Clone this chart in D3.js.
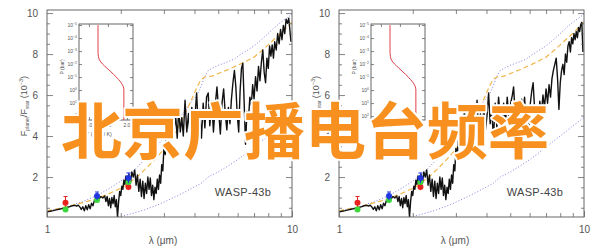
<!DOCTYPE html>
<html>
<head>
<meta charset="utf-8">
<script src="https://cdn.jsdelivr.net/npm/d3@7"></script>
<style>
  body { margin: 0; background: #fff; }
  svg { display: block; }
</style>
</head>
<body>
<div id="svg"></div>
<script>
// ---- data ----
const wavelengthTicks = [1, 10];
const wavelengthMinor = [2, 3, 4, 5, 6, 7, 8, 9];
const fluxTicks = [2, 4, 6, 8, 10];
const fluxMinor = [0.5, 1, 1.5, 2.5, 3, 3.5, 4.5, 5, 5.5, 6.5, 7, 7.5, 8.5, 9, 9.5];

// shared short-wavelength part of the spectrum [lambda (um), Fp/Fs (1e-3)]
const spectrumBase = [
  [1.00,0.30],[1.03,0.33],[1.06,0.36],[1.09,0.40],[1.12,0.43],[1.15,0.46],[1.18,0.48],[1.21,0.52],
  [1.24,0.56],[1.27,0.60],[1.30,0.62],[1.32,0.58],[1.34,0.63],[1.36,0.55],[1.38,0.42],[1.40,0.55],
  [1.42,0.35],[1.44,0.60],[1.46,0.40],[1.48,0.65],[1.50,0.45],[1.52,0.72],[1.54,0.60],[1.56,0.85],
  [1.58,0.80],[1.60,0.95],[1.63,0.92],[1.66,1.05],[1.69,0.98],[1.72,1.08],[1.74,0.80],[1.76,1.05],
  [1.78,0.60],[1.80,0.95],[1.82,0.50],[1.84,1.00],[1.86,0.70],[1.88,1.10],[1.90,0.55],[1.92,0.90],
  [1.94,0.05],[1.96,0.80],[1.98,1.30],[2.00,1.10],[2.02,1.55],[2.04,1.40],[2.06,1.85],[2.08,1.65],
  [2.10,2.05],[2.13,1.80],[2.16,2.15],[2.19,1.70],[2.22,2.25],[2.25,2.00],[2.28,2.35],[2.31,1.60],
  [2.34,2.10],[2.37,1.30],[2.40,1.90],[2.43,1.05],[2.46,1.80],[2.49,0.95],[2.52,1.70],[2.55,1.20],
  [2.58,2.00],[2.61,1.40],[2.64,1.95],[2.67,1.10],[2.70,1.60],[2.73,0.90],[2.76,1.50],[2.79,1.20],
  [2.82,1.90],[2.85,1.40],[2.88,2.10],[2.91,1.70],[2.94,2.60],[2.97,2.30],[3.00,3.40],[3.04,3.10],
  [3.08,4.20],[3.12,3.90],[3.16,4.90],[3.20,4.40],[3.25,5.20],[3.30,4.30],[3.35,5.00],[3.40,3.90],
  [3.45,5.30],[3.50,4.20],[3.55,4.90],[3.60,4.00],[3.66,5.75],[3.72,4.20],[3.78,5.10],[3.84,4.00],
  [3.90,5.40],[3.96,4.30],[4.02,5.00],[4.08,6.10],[4.14,4.60],[4.20,5.30],[4.27,3.90],[4.34,5.60],
  [4.41,4.40],[4.48,5.90]
];
// long-wavelength part, left panel
const spectrumTailLeft = [
  [4.55,6.10],[4.62,4.50],[4.70,5.70],[4.78,4.20],[4.86,5.50],[4.94,6.40],[5.02,5.20],[5.10,4.10],
  [5.18,5.60],[5.26,6.30],[5.34,5.10],[5.42,4.30],[5.50,5.40],[5.58,4.60],[5.66,5.80],[5.74,6.60],
  [5.82,7.20],[5.90,6.40],[5.98,5.00],[6.06,4.20],[6.14,6.20],[6.22,7.30],[6.30,7.55],[6.38,5.60],
  [6.46,3.60],[6.55,5.20],[6.64,4.80],[6.73,5.90],[6.82,5.50],[6.91,6.50],[7.00,5.80],[7.10,6.90],
  [7.20,6.20],[7.30,7.40],[7.40,6.70],[7.50,7.60],[7.60,8.20],[7.70,7.10],[7.80,6.60],[7.90,7.80],
  [8.00,7.30],[8.10,8.40],[8.20,7.90],[8.30,8.45],[8.40,7.80],[8.50,8.60],[8.62,8.20],[8.74,9.00],
  [8.86,8.50],[8.98,9.20],[9.10,8.70],[9.22,9.40],[9.34,9.00],[9.46,9.70],[9.58,9.50],[9.70,9.75],
  [9.80,9.20],[9.90,8.60]
];
// long-wavelength part, right panel
const spectrumTailRight = [
  [4.55,5.00],[4.62,4.30],[4.70,5.60],[4.78,4.60],[4.86,5.90],[4.94,4.80],[5.02,5.60],[5.10,6.00],
  [5.16,6.40],[5.24,5.00],[5.32,4.20],[5.40,5.50],[5.48,4.70],[5.56,5.80],[5.64,5.10],[5.72,5.90],
  [5.80,4.60],[5.88,5.30],[5.96,4.40],[6.04,5.60],[6.12,6.20],[6.20,6.60],[6.28,5.40],[6.36,4.30],
  [6.44,5.20],[6.52,4.60],[6.60,5.70],[6.70,5.10],[6.80,6.00],[6.90,5.40],[7.00,6.30],[7.10,5.60],
  [7.20,6.50],[7.30,5.90],[7.40,6.80],[7.50,7.20],[7.60,7.50],[7.70,7.80],[7.80,6.80],[7.90,5.30],
  [8.00,6.60],[8.10,7.20],[8.20,7.50],[8.30,7.00],[8.40,8.00],[8.50,7.60],[8.60,8.40],[8.70,8.60],
  [8.80,8.10],[8.90,8.80],[9.00,8.50],[9.10,9.00],[9.20,8.70],[9.30,9.10],[9.40,8.80],[9.50,9.30],
  [9.60,9.10],[9.70,9.45],[9.80,9.55],[9.90,8.10]
];

const modelDashed = [
  [1.0,0.35],[1.1,0.45],[1.2,0.55],[1.3,0.65],[1.4,0.75],[1.5,0.85],[1.6,0.95],[1.7,1.08],[1.8,1.2],
  [1.9,1.33],[2.0,1.45],[2.1,1.6],[2.2,1.78],[2.35,2.05],[2.5,2.35],[2.7,2.75],[2.9,3.15],[3.1,3.6],
  [3.3,4.1],[3.5,4.6],[3.7,5.2],[3.9,5.8],[4.1,6.4],[4.25,6.75],[4.4,6.88],[4.6,6.9],[4.8,6.95],
  [5.0,7.05],[5.5,7.25],[6.0,7.45],[6.5,7.65],[7.0,7.85],[7.5,8.15],[8.0,8.45],[8.5,8.75],[9.0,9.0],
  [9.5,9.3],[10.0,9.55]
];
const modelDottedUpper = [
  [1.0,0.33],[1.2,0.55],[1.4,0.8],[1.6,1.1],[1.8,1.45],[2.0,1.8],[2.15,2.1],[2.3,2.4],[2.5,2.85],
  [2.7,3.3],[2.9,3.7],[3.1,4.15],[3.3,4.6],[3.5,4.95],[3.7,5.3],[3.9,5.7],[4.1,6.0],[4.25,6.4],
  [4.4,6.9],[4.55,7.2],[4.8,7.35],[5.0,7.45],[5.4,7.6],[5.8,7.75],[6.2,8.0],[6.6,8.2],[7.0,8.4],
  [7.5,8.7],[8.0,9.0],[8.5,9.3],[9.0,9.55],[9.5,9.75],[10.0,9.95]
];
const modelDottedLower = [
  [1.95,0.05],[2.2,0.2],[2.5,0.4],[2.8,0.62],[3.1,0.85],[3.4,1.08],[3.7,1.3],[4.0,1.52],[4.25,1.68],
  [4.4,1.85],[4.55,2.0],[5.0,2.25],[5.5,2.55],[6.0,2.85],[6.5,3.15],[7.0,3.45],[7.5,3.75],[8.0,4.0],
  [8.5,4.25],[9.0,4.5],[9.5,4.7],[10.0,4.9]
];

// photometry [lambda, value, error]
const redPoints = [[1.19,0.75,0.3],[2.15,1.51,0.15]];
const greenPoints = [[1.19,0.42,0.08],[1.6,0.88,0.08],[2.15,1.76,0.08]];
const bluePoints = [[1.6,1.07,0.2],[2.15,1.95,0.25]];

// inset T-P profile
const profilePressure = [1e-5, 1e-3, 2.5e-3, 5e-3, 1e-2, 2e-2, 4e-2, 0.1, 0.25, 0.5, 1, 200];
const profileTemp = [1.24, 1.24, 1.25, 1.28, 1.36, 1.47, 1.58, 1.72, 1.84, 1.9, 1.92, 1.92];
const pressureTicks = [-5, -4, -3, -2, -1, 0, 1, 2];
const tempTicks = [1.0, 1.5, 2.0];

const titleText = "北京广播电台频率";
const planetName = "WASP-43b";

// ---- drawing ----
const width = 610, height = 249;
const plotW = 245, plotTop = 10, plotBottom = 217;
const font = "'Liberation Sans', Arial, sans-serif";
const axisColor = "#666", textColor = "#555";

const svg = d3.select("#svg").append("svg")
  .attr("width", width).attr("height", height)
  .style("font-family", font);

function styleAxis(g) {
  g.select(".domain").remove();
  g.selectAll("line").attr("stroke", axisColor).attr("stroke-width", 0.8);
  g.selectAll("text").attr("fill", textColor).attr("font-size", 10);
}

function drawPanel(x0, spectrum, id) {
  const x1 = x0 + plotW;
  const x = d3.scaleLog().domain([1, 10]).range([x0, x1]);
  const y = d3.scaleLinear().domain([0.05, 10.15]).range([plotBottom, plotTop]);
  const g = svg.append("g");

  g.append("clipPath").attr("id", "clip" + id)
    .append("rect").attr("x", x0).attr("y", plotTop)
    .attr("width", plotW).attr("height", plotBottom - plotTop);

  const line = d3.line().x(d => x(d[0])).y(d => y(d[1]));
  const data = g.append("g").attr("clip-path", `url(#clip${id})`);

  data.append("path").datum(modelDottedLower).attr("d", line)
    .attr("fill", "none").attr("stroke", "#7f7fe6").attr("stroke-width", 1)
    .attr("stroke-dasharray", "1,2");
  data.append("path").datum(modelDottedUpper).attr("d", line)
    .attr("fill", "none").attr("stroke", "#7f7fe6").attr("stroke-width", 1)
    .attr("stroke-dasharray", "1,2");
  data.append("path").datum(modelDashed).attr("d", line)
    .attr("fill", "none").attr("stroke", "#f2b54a").attr("stroke-width", 1.2)
    .attr("stroke-dasharray", "5,3");
  data.append("path").datum(spectrum).attr("d", line)
    .attr("fill", "none").attr("stroke", "#111").attr("stroke-width", 1.4)
    .attr("stroke-linejoin", "round");

  [[redPoints, "#e8231f"], [greenPoints, "#3bd83b"], [bluePoints, "#2236e0"]].forEach(([pts, c]) => {
    const pg = data.append("g");
    pg.selectAll("line").data(pts).join("line")
      .attr("x1", d => x(d[0])).attr("x2", d => x(d[0]))
      .attr("y1", d => y(d[1] - d[2])).attr("y2", d => y(d[1] + d[2]))
      .attr("stroke", c).attr("stroke-width", 1);
    pg.selectAll(".cap").data(pts).join("line").attr("class", "cap")
      .attr("x1", d => x(d[0]) - 2).attr("x2", d => x(d[0]) + 2)
      .attr("y1", d => y(d[1] + d[2])).attr("y2", d => y(d[1] + d[2]))
      .attr("stroke", c).attr("stroke-width", 1);
    pg.selectAll("circle").data(pts).join("circle")
      .attr("cx", d => x(d[0])).attr("cy", d => y(d[1])).attr("r", 3)
      .attr("fill", c);
  });

  // frame
  g.append("rect").attr("x", x0).attr("y", plotTop)
    .attr("width", plotW).attr("height", plotBottom - plotTop)
    .attr("fill", "none").attr("stroke", axisColor).attr("stroke-width", 1);

  // axes, ticks pointing inward
  g.append("g").attr("transform", `translate(${x0},0)`)
    .call(d3.axisLeft(y).tickValues(fluxTicks).tickSize(-6).tickPadding(9).tickFormat(d3.format("d")))
    .call(styleAxis);
  g.append("g").attr("transform", `translate(${x0},0)`)
    .call(d3.axisLeft(y).tickValues(fluxMinor).tickSize(-3).tickFormat(""))
    .call(styleAxis);
  g.append("g").attr("transform", `translate(${x1},0)`)
    .call(d3.axisRight(y).tickValues(fluxTicks).tickSize(-6).tickFormat(""))
    .call(styleAxis);
  g.append("g").attr("transform", `translate(${x1},0)`)
    .call(d3.axisRight(y).tickValues(fluxMinor).tickSize(-3).tickFormat(""))
    .call(styleAxis);
  g.append("g").attr("transform", `translate(0,${plotBottom})`)
    .call(d3.axisBottom(x).tickValues(wavelengthTicks).tickSize(-6).tickPadding(9).tickFormat(d3.format("d")))
    .call(styleAxis);
  g.append("g").attr("transform", `translate(0,${plotBottom})`)
    .call(d3.axisBottom(x).tickValues(wavelengthMinor).tickSize(-4).tickFormat(""))
    .call(styleAxis);
  g.append("g").attr("transform", `translate(0,${plotTop})`)
    .call(d3.axisTop(x).tickValues(wavelengthMinor).tickSize(-4).tickFormat(""))
    .call(styleAxis);

  // axis titles
  g.append("text").attr("x", x0 + 116).attr("y", 244)
    .attr("text-anchor", "middle").attr("font-size", 10).attr("fill", textColor)
    .text("λ (μm)");
  const yt = g.append("text")
    .attr("transform", `translate(${x0 - 20},106) rotate(-90)`)
    .attr("text-anchor", "middle").attr("font-size", 9).attr("fill", textColor);
  yt.append("tspan").text("F");
  yt.append("tspan").attr("font-size", 5).attr("dy", 2).text("planet");
  yt.append("tspan").attr("dy", -2).text("/F");
  yt.append("tspan").attr("font-size", 5).attr("dy", 2).text("star");
  yt.append("tspan").attr("dy", -2).text(" (10");
  yt.append("tspan").attr("font-size", 5.5).attr("dy", -4).text("−3");
  yt.append("tspan").attr("dy", 4).text(")");

  g.append("text").attr("x", x0 + 196).attr("y", 196)
    .attr("text-anchor", "middle").attr("font-size", 11).attr("fill", "#444")
    .attr("letter-spacing", 0.3)
    .text(planetName);

  drawInset(g, x0);
}

function drawInset(g, x0) {
  const ix0 = x0 + 32, ix1 = x0 + 86, iy0 = 24, iy1 = 120;
  const ix = d3.scaleLinear().domain([0.74, 2.16]).range([ix0, ix1]);
  const iy = d3.scaleLog().domain([Math.pow(10, -5.08), Math.pow(10, 2.3)]).range([iy0, iy1]);
  const ig = g.append("g");

  ig.append("rect").attr("x", ix0).attr("y", iy0)
    .attr("width", ix1 - ix0).attr("height", iy1 - iy0)
    .attr("fill", "#fff").attr("stroke", axisColor).attr("stroke-width", 1);

  const decades = pressureTicks.map(p => Math.pow(10, p));
  ig.append("g").attr("transform", `translate(${ix0},0)`)
    .call(d3.axisLeft(iy).tickValues(decades).tickSize(-3).tickFormat(""))
    .call(styleAxis);
  ig.append("g").attr("transform", `translate(${ix1},0)`)
    .call(d3.axisRight(iy).tickValues(decades).tickSize(-3).tickFormat(""))
    .call(styleAxis);
  ig.append("g").attr("transform", `translate(0,${iy1})`)
    .call(d3.axisBottom(ix).tickValues(tempTicks).tickSize(-3).tickFormat(""))
    .call(styleAxis);
  ig.append("g").attr("transform", `translate(0,${iy0})`)
    .call(d3.axisTop(ix).tickValues(tempTicks).tickSize(-3).tickFormat(""))
    .call(styleAxis);

  const labels = ig.append("g").attr("font-size", 5).attr("fill", textColor);
  pressureTicks.forEach(p => {
    const t = labels.append("text").attr("x", ix0 - 2).attr("y", iy(Math.pow(10, p)) + 2)
      .attr("text-anchor", "end");
    t.append("tspan").text("10");
    t.append("tspan").attr("font-size", 3.5).attr("dy", -2).text(p < 0 ? "−" + (-p) : p);
  });
  tempTicks.forEach(t => {
    labels.append("text").attr("x", ix(t)).attr("y", iy1 + 7)
      .attr("text-anchor", "middle").text(d3.format(".1f")(t));
  });
  labels.append("text").attr("transform", `translate(${x0 + 17},67) rotate(-90)`)
    .attr("text-anchor", "middle").text("P (bar)");
  labels.append("text").attr("x", x0 + 52).attr("y", 136)
    .attr("text-anchor", "middle").attr("font-size", 5.5).text("T (1000 K)");

  const profile = d3.zip(profileTemp, profilePressure);
  ig.append("path").datum(profile)
    .attr("d", d3.line().curve(d3.curveMonotoneY).x(d => ix(d[0])).y(d => iy(d[1])))
    .attr("fill", "none").attr("stroke", "#e0414a").attr("stroke-width", 1);
}

drawPanel(47, spectrumBase.concat(spectrumTailLeft), "L");
drawPanel(339, spectrumBase.concat(spectrumTailRight), "R");

// overlay title
svg.append("text")
  .attr("x", 61).attr("y", 154)
  .attr("font-family", "'Noto Sans CJK SC', sans-serif")
  .attr("font-weight", 700).attr("font-size", 61)
  .attr("fill", "#f7901e")
  .attr("stroke", "#fff").attr("stroke-width", 4).attr("stroke-linejoin", "round")
  .attr("paint-order", "stroke")
  .text(titleText);
</script>
</body>
</html>
